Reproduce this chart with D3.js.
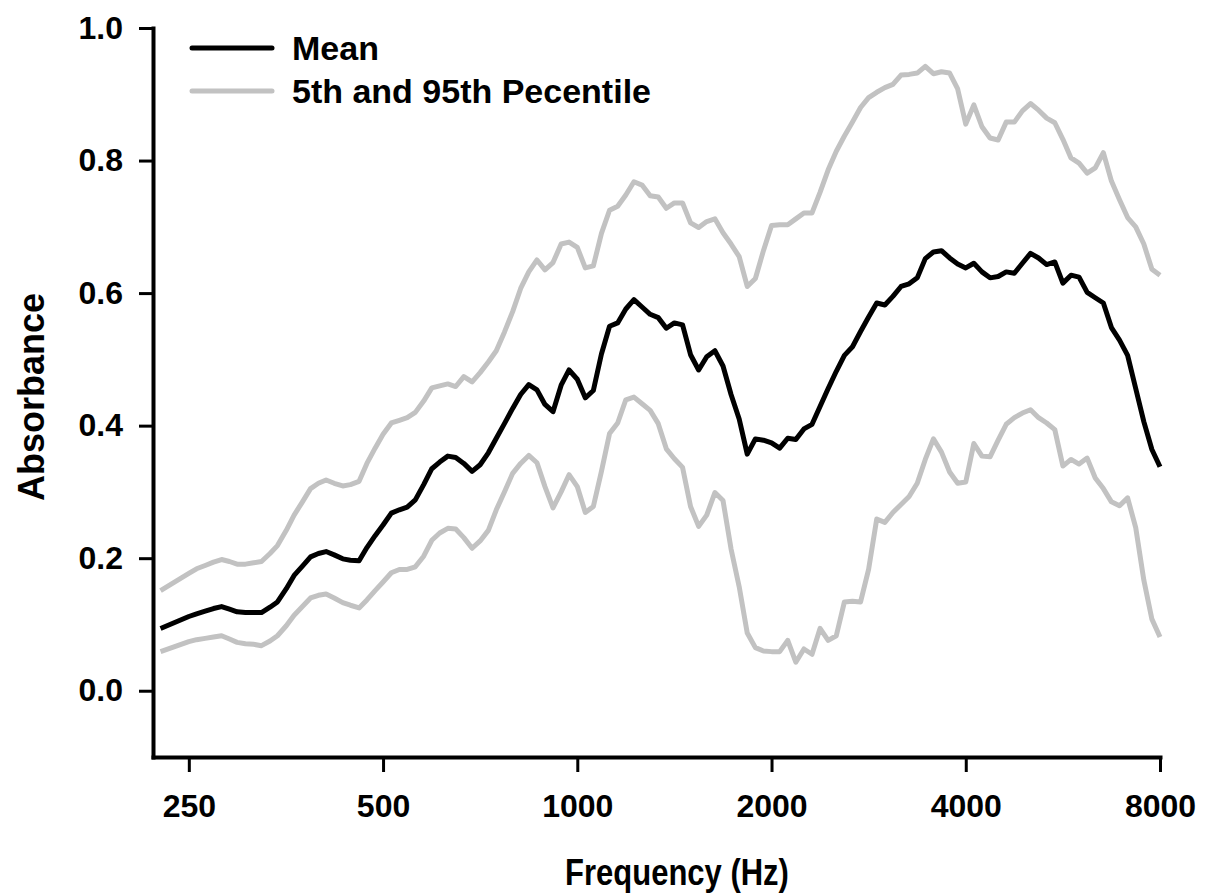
<!DOCTYPE html>
<html>
<head>
<meta charset="utf-8">
<script src="https://cdnjs.cloudflare.com/ajax/libs/d3/7.8.5/d3.min.js"></script>
<style>
	body { margin: 0; background: #fff; }
	svg { display: block; }
	.tick text, .lbl { font-family: "Liberation Sans", Arial, sans-serif; font-weight: bold; fill: #000; }
</style>
</head>
<body>
<svg id="chart" width="1207" height="895"></svg>
<script>
// frequencies (Hz), 1/24 octave steps
var freqs = [226, 250, 257, 265, 273, 281, 289, 297, 306, 315, 324, 334, 343, 354, 364, 375, 386, 397, 408, 420,
	433, 445, 459, 472, 486, 500, 515, 530, 545, 561, 578, 595, 612, 630, 648, 667, 687, 707, 728, 749,
	771, 794, 817, 841, 866, 891, 917, 944, 971, 1000, 1029, 1059, 1090, 1122, 1155, 1189, 1224, 1260, 1297, 1335,
	1374, 1414, 1456, 1498, 1542, 1587, 1634, 1682, 1731, 1782, 1834, 1888, 1943, 2000, 2059, 2119, 2181, 2245, 2311, 2378,
	2448, 2520, 2594, 2670, 2748, 2828, 2911, 2997, 3084, 3175, 3268, 3364, 3462, 3564, 3668, 3776, 3886, 4000, 4117, 4238,
	4362, 4490, 4621, 4757, 4896, 5040, 5187, 5339, 5496, 5657, 5823, 5993, 6169, 6350, 6536, 6727, 6924, 7127, 7336, 7551,
	7772, 8000];

var meanAbs = [0.094, 0.112, 0.116, 0.120, 0.124, 0.127, 0.123, 0.119, 0.118, 0.118, 0.118, 0.126, 0.134, 0.154, 0.174, 0.188, 0.202, 0.207, 0.210, 0.205,
	0.199, 0.197, 0.196, 0.216, 0.234, 0.250, 0.268, 0.273, 0.277, 0.288, 0.311, 0.335, 0.345, 0.354, 0.352, 0.343, 0.331, 0.341, 0.359, 0.381,
	0.403, 0.426, 0.447, 0.462, 0.454, 0.432, 0.421, 0.461, 0.484, 0.470, 0.442, 0.453, 0.508, 0.550, 0.555, 0.576, 0.590, 0.579, 0.568, 0.563,
	0.547, 0.555, 0.552, 0.507, 0.484, 0.504, 0.513, 0.490, 0.447, 0.410, 0.357, 0.380, 0.378, 0.374, 0.366, 0.381, 0.379, 0.395, 0.402, 0.429,
	0.456, 0.482, 0.506, 0.519, 0.542, 0.564, 0.585, 0.582, 0.595, 0.610, 0.614, 0.623, 0.652, 0.662, 0.664, 0.653, 0.644, 0.638, 0.645, 0.632,
	0.623, 0.625, 0.632, 0.630, 0.645, 0.660, 0.653, 0.643, 0.647, 0.615, 0.627, 0.624, 0.601, 0.593, 0.585, 0.548, 0.529, 0.506, 0.456, 0.406,
	0.364, 0.338];

var p95Abs = [0.151, 0.177, 0.184, 0.189, 0.194, 0.198, 0.195, 0.191, 0.191, 0.193, 0.195, 0.207, 0.219, 0.242, 0.265, 0.285, 0.305, 0.313, 0.318, 0.313,
	0.309, 0.311, 0.316, 0.343, 0.366, 0.387, 0.404, 0.408, 0.412, 0.420, 0.437, 0.457, 0.460, 0.463, 0.459, 0.474, 0.466, 0.480, 0.496, 0.513,
	0.541, 0.572, 0.607, 0.632, 0.650, 0.635, 0.646, 0.674, 0.677, 0.669, 0.638, 0.641, 0.690, 0.725, 0.731, 0.748, 0.768, 0.763, 0.747, 0.745,
	0.728, 0.736, 0.736, 0.706, 0.699, 0.708, 0.712, 0.691, 0.674, 0.655, 0.610, 0.622, 0.664, 0.702, 0.703, 0.703, 0.712, 0.721, 0.721, 0.752,
	0.786, 0.814, 0.837, 0.858, 0.880, 0.895, 0.903, 0.910, 0.915, 0.929, 0.930, 0.932, 0.942, 0.931, 0.934, 0.932, 0.908, 0.855, 0.884, 0.851,
	0.834, 0.831, 0.858, 0.858, 0.875, 0.886, 0.876, 0.864, 0.857, 0.832, 0.804, 0.796, 0.781, 0.789, 0.812, 0.769, 0.741, 0.714, 0.700, 0.674,
	0.636, 0.627];

var p5Abs = [0.059, 0.074, 0.077, 0.079, 0.081, 0.083, 0.078, 0.073, 0.071, 0.070, 0.068, 0.075, 0.083, 0.098, 0.114, 0.127, 0.140, 0.144, 0.146, 0.140,
	0.133, 0.129, 0.125, 0.137, 0.151, 0.164, 0.178, 0.183, 0.183, 0.187, 0.203, 0.227, 0.238, 0.245, 0.244, 0.231, 0.215, 0.226, 0.242, 0.273,
	0.300, 0.328, 0.343, 0.355, 0.344, 0.308, 0.276, 0.300, 0.326, 0.308, 0.269, 0.278, 0.331, 0.388, 0.404, 0.439, 0.443, 0.433, 0.423, 0.403,
	0.365, 0.350, 0.337, 0.278, 0.248, 0.265, 0.299, 0.287, 0.214, 0.157, 0.087, 0.065, 0.060, 0.059, 0.059, 0.076, 0.043, 0.063, 0.055, 0.094,
	0.076, 0.083, 0.134, 0.135, 0.134, 0.183, 0.259, 0.254, 0.269, 0.281, 0.293, 0.313, 0.349, 0.380, 0.360, 0.330, 0.313, 0.315, 0.373, 0.354,
	0.353, 0.378, 0.402, 0.412, 0.419, 0.424, 0.412, 0.404, 0.394, 0.339, 0.349, 0.342, 0.351, 0.321, 0.305, 0.285, 0.279, 0.291, 0.246, 0.167,
	0.108, 0.081];

var xTicks = [250, 500, 1000, 2000, 4000, 8000];
var yTicks = [0.0, 0.2, 0.4, 0.6, 0.8, 1.0];
var legendItems = [
	{ name: 'Mean', color: '#000000' },
	{ name: '5th and 95th Pecentile', color: '#c2c2c2' }
];

var svg = d3.select('#chart');
svg.append('rect').attr('width', 1207).attr('height', 895).attr('fill', '#fff');

var x = d3.scaleLog().domain([220, 8000]).range([153, 1160]);
var y = d3.scaleLinear().domain([-0.1, 1.0]).range([757, 28]);

var line = d3.line()
	.x(function(d) { return x(d[0]); })
	.y(function(d) { return y(d[1]); });

function pairs(vals) {
	return freqs.map(function(f, i) { return [f, vals[i]]; });
}

// grey percentile lines first, mean on top
[p95Abs, p5Abs].forEach(function(vals) {
	svg.append('path')
		.datum(pairs(vals))
		.attr('d', line)
		.attr('fill', 'none')
		.attr('stroke', '#c2c2c2')
		.attr('stroke-width', 5)
		.attr('stroke-linejoin', 'round');
});

svg.append('path')
	.datum(pairs(meanAbs))
	.attr('d', line)
	.attr('fill', 'none')
	.attr('stroke', '#000')
	.attr('stroke-width', 5)
	.attr('stroke-linejoin', 'round');

// axes
var xAxis = svg.append('g')
	.attr('transform', 'translate(0,757)')
	.call(d3.axisBottom(x).tickValues(xTicks).tickFormat(d3.format('d')).tickSize(15).tickSizeOuter(0).tickPadding(22));

var yAxis = svg.append('g')
	.attr('transform', 'translate(153,0)')
	.call(d3.axisLeft(y).tickValues(yTicks).tickFormat(d3.format('.1f')).tickSize(14).tickSizeOuter(0).tickPadding(16));

[xAxis, yAxis].forEach(function(g) {
	g.select('.domain').attr('stroke', '#000').attr('stroke-width', 4).attr('stroke-linecap', 'square');
	g.selectAll('.tick line').attr('stroke', '#000').attr('stroke-width', 3);
	g.selectAll('.tick text').style('font-size', '32px');
});

// axis titles (x title a bit taller, like the original)
svg.append('text')
	.attr('class', 'lbl')
	.attr('transform', 'translate(677,885) scale(1,1.2)')
	.attr('text-anchor', 'middle')
	.style('font-size', '31px')
	.text('Frequency (Hz)');

svg.append('text')
	.attr('class', 'lbl')
	.attr('transform', 'translate(44,397) rotate(-90)')
	.attr('text-anchor', 'middle')
	.style('font-size', '36px')
	.text('Absorbance');

// legend
var legend = svg.append('g');
legendItems.forEach(function(d, i) {
	var ly = 48 + i * 43;
	legend.append('line')
		.attr('x1', 192).attr('x2', 272)
		.attr('y1', ly).attr('y2', ly)
		.attr('stroke', d.color)
		.attr('stroke-width', 5)
		.attr('stroke-linecap', 'round');
	legend.append('text')
		.attr('class', 'lbl')
		.attr('x', 292)
		.attr('y', ly + 12)
		.style('font-size', '34px')
		.text(d.name);
});
</script>
</body>
</html>
